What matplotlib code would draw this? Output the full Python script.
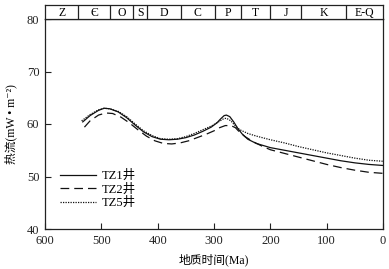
import matplotlib
matplotlib.use("Agg")
import matplotlib.pyplot as plt

plt.rcParams['font.family'] = ['Liberation Serif', 'Noto Sans CJK SC', 'DejaVu Sans']

# Geological periods (boundaries in Ma) and labels
period_bounds = [600, 541, 485, 443, 419, 359, 299, 252, 201, 145, 66, 0]
period_labels = ["Z", "Є", "O", "S", "D", "C", "P", "T", "J", "K", "E-Q"]

tz1_age = [533, 520, 505, 495, 485, 470, 455, 440, 425, 410, 395, 380, 365, 350, 335, 320,
           305, 295, 288, 282, 278, 272, 265, 258, 250, 240, 225, 200, 175, 150, 125, 100,
           75, 50, 25, 0]
tz1_hf = [60.4, 61.6, 62.6, 63.0, 62.9, 62.3, 61.2, 59.8, 58.5, 57.6, 57.1, 57.0, 57.1, 57.4,
          57.9, 58.6, 59.4, 60.2, 61.0, 61.6, 61.7, 61.4, 60.4, 59.2, 58.1, 57.1, 56.3, 55.5,
          55.0, 54.5, 54.0, 53.5, 53.0, 52.6, 52.3, 52.1]

tz2_age = [530, 520, 505, 492, 480, 465, 450, 435, 420, 405, 390, 375, 360, 345, 330, 315,
           300, 290, 280, 270, 262, 255, 245, 230, 215, 200, 175, 150, 125, 100, 75, 50, 25, 0]
tz2_hf = [59.4, 60.6, 61.7, 62.1, 62.0, 61.3, 60.2, 58.9, 57.7, 56.8, 56.3, 56.2, 56.4, 56.8,
          57.4, 58.0, 58.7, 59.3, 59.7, 59.7, 59.3, 58.5, 57.6, 56.6, 55.8, 55.1, 54.4, 53.7,
          53.0, 52.3, 51.7, 51.2, 50.8, 50.6]

tz5_age = [535, 520, 505, 495, 485, 470, 455, 440, 425, 410, 395, 380, 365, 350, 335, 320,
           305, 292, 283, 278, 270, 262, 254, 240, 225, 200, 175, 150, 125, 100, 75, 50, 25, 0]
tz5_hf = [60.6, 61.8, 62.7, 63.0, 62.9, 62.4, 61.4, 60.0, 58.7, 57.8, 57.2, 57.1, 57.2, 57.6,
          58.2, 58.9, 59.6, 60.4, 61.0, 61.1, 60.6, 59.6, 58.9, 58.2, 57.7, 57.0, 56.4, 55.7,
          55.1, 54.5, 54.0, 53.5, 53.1, 52.9]

x_ticks = [600, 500, 400, 300, 200, 100, 0]
y_ticks = [40, 50, 60, 70, 80]

W, H = 389, 269
fig = plt.figure(figsize=(W / 100, H / 100), dpi=100)
ax = fig.add_axes([45 / W, (H - 229) / H, 338 / W, 210 / H])
band = fig.add_axes([45 / W, (H - 19) / H, 338 / W, 14 / H])

lw = 0.9
ax.plot(tz1_age, tz1_hf, color='#111111', lw=lw, ls='-', label='TZ1井')
ax.plot(tz2_age, tz2_hf, color='#111111', lw=lw, ls=(0, (7, 4)), label='TZ2井')
ax.plot(tz5_age, tz5_hf, color='#111111', lw=lw, ls=(0, (1, 1)), label='TZ5井')

ax.set_xlim(600, 0)
ax.set_ylim(40, 80)
ax.set_xticks(x_ticks)
ax.set_yticks(y_ticks)
ax.tick_params(direction='in', length=4, width=0.8, labelsize=9, colors='#222222',
               top=False, right=False, pad=4)
for s in ax.spines.values():
    s.set_linewidth(0.9)
    s.set_color('#222222')
ax.set_xlabel('地质时间(Ma)', fontsize=8.5, labelpad=5)
ax.set_ylabel('热流(mW • m⁻²)', fontsize=8.5, labelpad=7)

leg = ax.legend(loc='upper left', bbox_to_anchor=(0.03, 0.305), frameon=False, fontsize=9,
                handlelength=2.9, handletextpad=0.4, labelspacing=0.12, borderaxespad=0)

band.set_ylim(0, 1)
band.set_xlim(600, 0)
band.set_xticks([])
band.set_yticks([])
for s in band.spines.values():
    s.set_linewidth(0.9)
    s.set_color('#222222')
for b in period_bounds[1:-1]:
    band.axvline(b, color='#222222', lw=0.9)
for i, lab in enumerate(period_labels):
    mid = (period_bounds[i] + period_bounds[i + 1]) / 2
    band.text(mid, 0.45, lab, ha='center', va='center', fontsize=8.5)

fig.savefig('out.png', dpi=100)
